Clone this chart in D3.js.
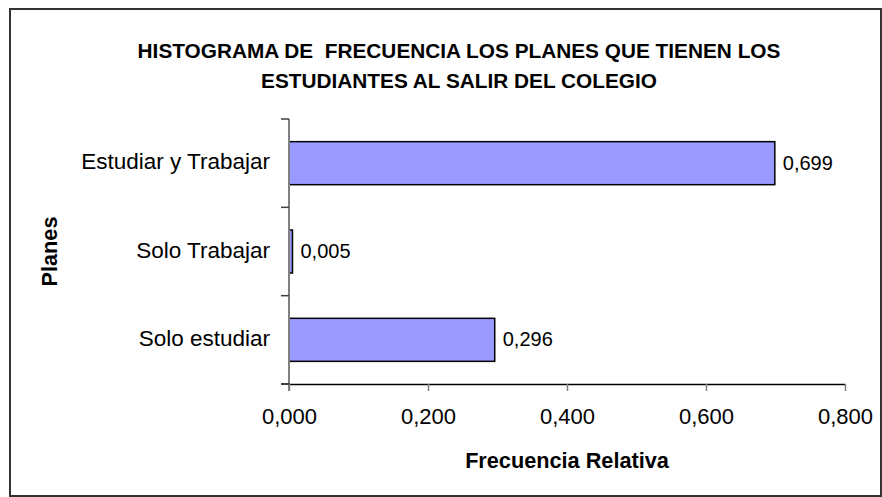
<!DOCTYPE html>
<html><head><meta charset="utf-8">
<script src="https://cdn.jsdelivr.net/npm/d3@7"></script>
<style>body{margin:0;background:#fff}svg{display:block}text{font-family:"Liberation Sans",Arial,sans-serif}</style>
</head><body>
<svg id="c" width="882" height="497"></svg>
<script>
const categories = ["Estudiar y Trabajar", "Solo Trabajar", "Solo estudiar"];
const values = [0.699, 0.005, 0.296];
const xTicks = [0, 0.2, 0.4, 0.6, 0.8];
const titleLines = ["HISTOGRAMA DE  FRECUENCIA LOS PLANES QUE TIENEN LOS", "ESTUDIANTES AL SALIR DEL COLEGIO"];
const xTitle = "Frecuencia Relativa";
const yTitle = "Planes";

const svg = d3.select("#c");
const loc = d3.formatLocale({decimal: ",", thousands: ".", grouping: [3], currency: ["", ""]});
const fmt = loc.format(".3f");

svg.append("rect").attr("x", 10).attr("y", 9).attr("width", 871).attr("height", 487)
  .attr("fill", "#fff").attr("stroke", "#333").attr("stroke-width", 2);

const x = d3.scaleLinear().domain([0, 0.8]).range([289, 845]);
const y = d3.scaleBand().domain(categories).range([119, 384]).paddingInner(0.513).paddingOuter(0.2565);
const step = (384 - 119) / categories.length;

// bars
svg.selectAll("rect.bar").data(categories).join("rect").attr("class", "bar")
  .attr("x", x(0)).attr("y", d => y(d))
  .attr("width", (d, i) => x(values[i]) - x(0)).attr("height", y.bandwidth())
  .attr("fill", "#9999FF").attr("stroke", "#000").attr("stroke-width", 1.5);

// y axis
svg.append("line").attr("x1", 289).attr("x2", 289).attr("y1", 119).attr("y2", 391)
  .attr("stroke", "#808080").attr("stroke-width", 2);
d3.range(categories.length + 1).forEach(i => {
  const yy = 119 + i * step;
  svg.append("line").attr("x1", 281).attr("x2", 289).attr("y1", yy).attr("y2", yy)
    .attr("stroke", i === categories.length ? "#000" : "#404040").attr("stroke-width", 1.5);
});
svg.selectAll("text.cat").data(categories).join("text").attr("class", "cat")
  .attr("x", 270).attr("y", d => y(d) + y.bandwidth() / 2 + 6)
  .attr("text-anchor", "end").attr("font-size", 22.5).attr("fill", "#000").text(d => d);

// x axis
const xAxis = d3.axisBottom(x).tickValues(xTicks).tickSize(7).tickSizeOuter(0).tickFormat(fmt);
const gx = svg.append("g").attr("transform", "translate(0,384)").call(xAxis);
gx.select(".domain").attr("stroke", "#000").attr("stroke-width", 1.5);
gx.selectAll(".tick line").attr("stroke", "#808080").attr("stroke-width", 1.5);
gx.selectAll(".tick text").attr("font-size", 22).attr("fill", "#000")
  .attr("y", 40).attr("dy", 0).style("font-family", '"Liberation Sans",Arial,sans-serif');

// data labels
svg.selectAll("text.val").data(categories).join("text").attr("class", "val")
  .attr("x", (d, i) => x(values[i]) + 8).attr("y", d => y(d) + y.bandwidth() / 2 + 6.5)
  .attr("font-size", 20).attr("fill", "#000").text((d, i) => fmt(values[i]));

// titles
svg.selectAll("text.title").data(titleLines).join("text").attr("class", "title")
  .attr("x", 459).attr("y", (d, i) => 57.5 + i * 30)
  .attr("text-anchor", "middle").attr("font-size", 20.8).attr("font-weight", "bold")
  .attr("fill", "#000").style("white-space", "pre").text(d => d);
svg.append("text").attr("x", 567).attr("y", 467.5).attr("text-anchor", "middle")
  .attr("font-size", 21.7).attr("font-weight", "bold").text(xTitle);
svg.append("text").attr("transform", "translate(57,251.5) rotate(-90)").attr("text-anchor", "middle")
  .attr("font-size", 21.7).attr("font-weight", "bold").text(yTitle);
</script>
</body></html>
